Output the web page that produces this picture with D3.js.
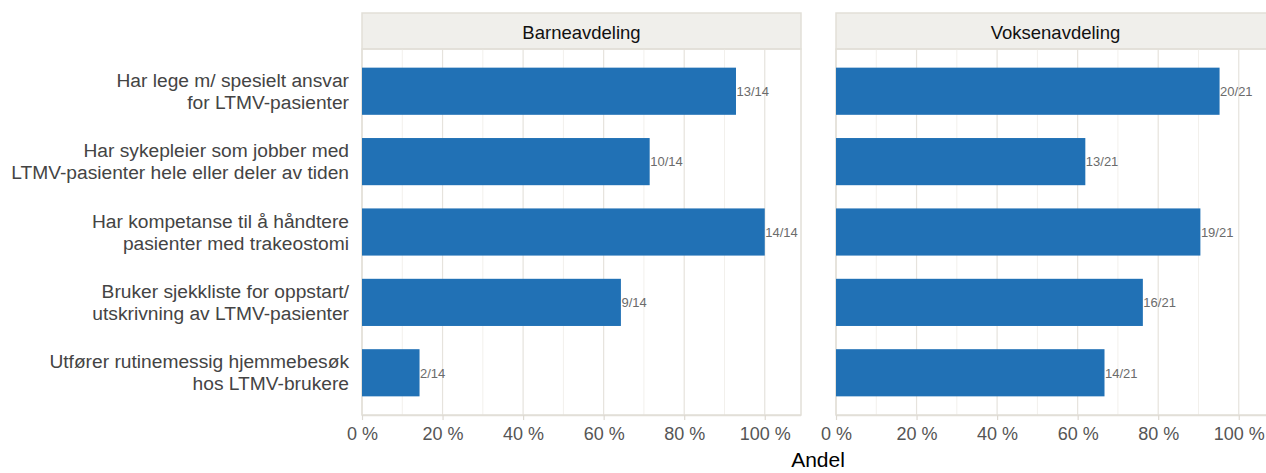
<!DOCTYPE html>
<html><head><meta charset="utf-8">
<script src="https://cdn.jsdelivr.net/npm/d3@7"></script>
<style>body{margin:0;background:#fff;}svg{display:block;font-family:Arial,"Liberation Sans",sans-serif;}</style>
</head><body>
<svg id="c" width="1266" height="473"></svg>
<script>
const categories = [
  ["Har lege m/ spesielt ansvar","for LTMV-pasienter"],
  ["Har sykepleier som jobber med","LTMV-pasienter hele eller deler av tiden"],
  ["Har kompetanse til å håndtere","pasienter med trakeostomi"],
  ["Bruker sjekkliste for oppstart/","utskrivning av LTMV-pasienter"],
  ["Utfører rutinemessig hjemmebesøk","hos LTMV-brukere"]
];
const panels = ["Barneavdeling","Voksenavdeling"];
const barneN = [13,10,14,9,2];
const barneTotal = 14;
const voksenN = [20,13,19,16,14];
const voksenTotal = 21;
const tickValues = [0,0.2,0.4,0.6,0.8,1.0];
const tickLabels = ["0 %","20 %","40 %","60 %","80 %","100 %"];
const minorValues = [0.1,0.3,0.5,0.7,0.9];
const axisTitle = "Andel";

const series = [
  {name: panels[0], n: barneN, total: barneTotal},
  {name: panels[1], n: voksenN, total: voksenTotal}
];

const svg = d3.select("#c");
const stripTop = 13, stripBot = 49, plotBot = 415;
const panelW = 439;
const panelLefts = [362, 836];

const y = d3.scalePoint().domain(d3.range(categories.length))
  .range([stripBot, plotBot]).padding(0.6);
const unit = y.step();
const barH = unit * 0.67;

series.forEach((s, pi) => {
  const x0 = panelLefts[pi];
  const x = d3.scaleLinear().domain([0, 1.09]).range([x0, x0 + panelW]);
  const g = svg.append("g");
  g.append("rect").attr("x", x0).attr("y", stripTop).attr("width", panelW).attr("height", stripBot - stripTop)
    .attr("fill", "#f0efeb").attr("stroke", "#e2dfd8").attr("stroke-width", 1.5);
  g.append("text").attr("x", x0 + panelW/2).attr("y", 38.5)
    .attr("text-anchor","middle").attr("font-size", 18.5).attr("fill","#111").text(s.name);
  g.selectAll(".mn").data(minorValues).enter().append("line")
    .attr("x1", d=>x(d)).attr("x2", d=>x(d)).attr("y1", stripBot).attr("y2", plotBot)
    .attr("stroke", "#f2f0ec").attr("stroke-width", 1);
  g.selectAll(".mj").data(tickValues).enter().append("line")
    .attr("x1", d=>x(d)).attr("x2", d=>x(d)).attr("y1", stripBot).attr("y2", plotBot)
    .attr("stroke", "#e6e3dd").attr("stroke-width", 1.2);
  g.append("rect").attr("x", x0).attr("y", stripBot).attr("width", panelW).attr("height", plotBot - stripBot)
    .attr("fill", "none").attr("stroke", "#e2dfd8").attr("stroke-width", 1.5);
  g.selectAll(".bar").data(s.n).enter().append("rect")
    .attr("x", x(0)).attr("y", (d,i)=>y(i) - barH/2)
    .attr("width", d => x(d/s.total) - x(0)).attr("height", barH)
    .attr("fill", "#2171b5");
  g.selectAll(".lab").data(s.n).enter().append("text")
    .attr("x", d => x(d/s.total) + 0.5).attr("y", (d,i)=>y(i) + 4.8)
    .attr("font-size", 13).attr("fill", "#6b6b6b").text(d => d + "/" + s.total);
  const ax = d3.axisBottom(x).tickValues(tickValues).tickFormat((d,i)=>tickLabels[i]).tickSize(5).tickSizeOuter(0);
  const axg = g.append("g").attr("transform", `translate(0,${plotBot})`).call(ax);
  axg.select(".domain").attr("stroke", "#e2dfd8").attr("stroke-width", 1.5).attr("d", `M${x0},0.5H${x0+panelW}`);
  axg.selectAll(".tick line").attr("stroke", "#ddd9d2").attr("stroke-width", 1.2);
  axg.selectAll(".tick text").attr("font-size", 18).attr("fill", "#555").attr("y", 25).attr("dy", 0)
    .attr("font-family", "Arial, 'Liberation Sans', sans-serif");
});

const cg = svg.append("g");
categories.forEach((lines, i) => {
  const t = cg.append("text").attr("text-anchor","end").attr("font-size", 19.2).attr("fill","#444");
  lines.forEach((ln, j) => {
    t.append("tspan").attr("x", 349).attr("y", y(i) + (j - (lines.length-1)/2) * 22 + 6.5).text(ln);
  });
});

svg.append("text").attr("x", 818).attr("y", 467).attr("text-anchor","middle")
  .attr("font-size", 21).attr("fill","#000").text(axisTitle);
</script>
</body></html>
